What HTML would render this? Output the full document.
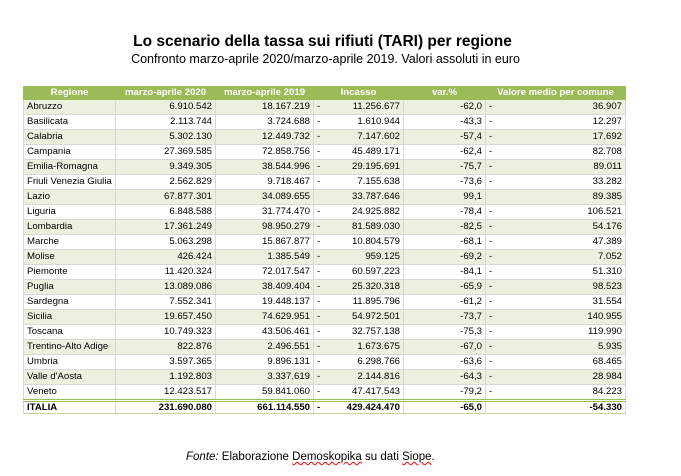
<!DOCTYPE html>
<html><head><meta charset="utf-8"><style>
body{margin:0;width:681px;height:476px;background:#fff;font-family:"Liberation Sans",sans-serif;position:relative;overflow:hidden}
.t{position:absolute;left:0;width:645px;text-align:center;font-weight:bold;font-size:15.5px;top:33px;color:#000}
.s{position:absolute;left:0;width:651px;text-align:center;font-size:12.5px;top:52px;color:#000}
table{position:absolute;left:23px;top:86px;border-collapse:collapse;table-layout:fixed;font-size:9.6px;color:#000}
td{height:14px;padding:0 3px;border:1px solid #d8d8d8;white-space:nowrap;overflow:hidden;text-align:right;line-height:14px}
td.l{text-align:left}
tr.h td{background:#9bbb59;color:#fff;font-weight:bold;text-align:center;height:12px;line-height:12px;border-color:#9bbb59}
tr.g td{background:#ebf1de}
tr.it td{font-weight:bold;border-top:3px double #9bbb59;border-bottom:1px solid #c4d79b;height:11px;line-height:11px}
.d{float:left}
.f{position:absolute;top:451px;left:186px;font-size:11.5px}
.u{text-decoration:underline wavy red;text-decoration-thickness:1px}
</style></head><body>
<div class="t">Lo scenario della tassa sui rifiuti (TARI) per regione</div>
<div class="s">Confronto marzo-aprile 2020/marzo-aprile 2019. Valori assoluti in euro</div>
<table>
<colgroup><col style="width:92px"><col style="width:100px"><col style="width:98px"><col style="width:90px"><col style="width:82px"><col style="width:140px"></colgroup>
<tr class="h"><td>Regione</td><td>marzo-aprile 2020</td><td>marzo-aprile 2019</td><td>Incasso</td><td>var.%</td><td>Valore medio per comune</td></tr>
<tr class="g"><td class="l">Abruzzo</td><td>6.910.542</td><td>18.167.219</td><td><span class="d">-</span>11.256.677</td><td>-62,0</td><td><span class="d">-</span>36.907</td></tr>
<tr><td class="l">Basilicata</td><td>2.113.744</td><td>3.724.688</td><td><span class="d">-</span>1.610.944</td><td>-43,3</td><td><span class="d">-</span>12.297</td></tr>
<tr class="g"><td class="l">Calabria</td><td>5.302.130</td><td>12.449.732</td><td><span class="d">-</span>7.147.602</td><td>-57,4</td><td><span class="d">-</span>17.692</td></tr>
<tr><td class="l">Campania</td><td>27.369.585</td><td>72.858.756</td><td><span class="d">-</span>45.489.171</td><td>-62,4</td><td><span class="d">-</span>82.708</td></tr>
<tr class="g"><td class="l">Emilia-Romagna</td><td>9.349.305</td><td>38.544.996</td><td><span class="d">-</span>29.195.691</td><td>-75,7</td><td><span class="d">-</span>89.011</td></tr>
<tr><td class="l">Friuli Venezia Giulia</td><td>2.562.829</td><td>9.718.467</td><td><span class="d">-</span>7.155.638</td><td>-73,6</td><td><span class="d">-</span>33.282</td></tr>
<tr class="g"><td class="l">Lazio</td><td>67.877.301</td><td>34.089.655</td><td>33.787.646</td><td>99,1</td><td>89.385</td></tr>
<tr><td class="l">Liguria</td><td>6.848.588</td><td>31.774.470</td><td><span class="d">-</span>24.925.882</td><td>-78,4</td><td><span class="d">-</span>106.521</td></tr>
<tr class="g"><td class="l">Lombardia</td><td>17.361.249</td><td>98.950.279</td><td><span class="d">-</span>81.589.030</td><td>-82,5</td><td><span class="d">-</span>54.176</td></tr>
<tr><td class="l">Marche</td><td>5.063.298</td><td>15.867.877</td><td><span class="d">-</span>10.804.579</td><td>-68,1</td><td><span class="d">-</span>47.389</td></tr>
<tr class="g"><td class="l">Molise</td><td>426.424</td><td>1.385.549</td><td><span class="d">-</span>959.125</td><td>-69,2</td><td><span class="d">-</span>7.052</td></tr>
<tr><td class="l">Piemonte</td><td>11.420.324</td><td>72.017.547</td><td><span class="d">-</span>60.597.223</td><td>-84,1</td><td><span class="d">-</span>51.310</td></tr>
<tr class="g"><td class="l">Puglia</td><td>13.089.086</td><td>38.409.404</td><td><span class="d">-</span>25.320.318</td><td>-65,9</td><td><span class="d">-</span>98.523</td></tr>
<tr><td class="l">Sardegna</td><td>7.552.341</td><td>19.448.137</td><td><span class="d">-</span>11.895.796</td><td>-61,2</td><td><span class="d">-</span>31.554</td></tr>
<tr class="g"><td class="l">Sicilia</td><td>19.657.450</td><td>74.629.951</td><td><span class="d">-</span>54.972.501</td><td>-73,7</td><td><span class="d">-</span>140.955</td></tr>
<tr><td class="l">Toscana</td><td>10.749.323</td><td>43.506.461</td><td><span class="d">-</span>32.757.138</td><td>-75,3</td><td><span class="d">-</span>119.990</td></tr>
<tr class="g"><td class="l">Trentino-Alto Adige</td><td>822.876</td><td>2.496.551</td><td><span class="d">-</span>1.673.675</td><td>-67,0</td><td><span class="d">-</span>5.935</td></tr>
<tr><td class="l">Umbria</td><td>3.597.365</td><td>9.896.131</td><td><span class="d">-</span>6.298.766</td><td>-63,6</td><td><span class="d">-</span>68.465</td></tr>
<tr class="g"><td class="l">Valle d'Aosta</td><td>1.192.803</td><td>3.337.619</td><td><span class="d">-</span>2.144.816</td><td>-64,3</td><td><span class="d">-</span>28.984</td></tr>
<tr><td class="l">Veneto</td><td>12.423.517</td><td>59.841.060</td><td><span class="d">-</span>47.417.543</td><td>-79,2</td><td><span class="d">-</span>84.223</td></tr>
<tr class="it"><td class="l">ITALIA</td><td>231.690.080</td><td>661.114.550</td><td><span class="d">-</span>429.424.470</td><td>-65,0</td><td>-54.330</td></tr>
</table>
<div class="f"><i>Fonte:</i> Elaborazione <span class="u">Demoskopika</span> su dati <span class="u">Siope</span>.</div>
</body></html>
